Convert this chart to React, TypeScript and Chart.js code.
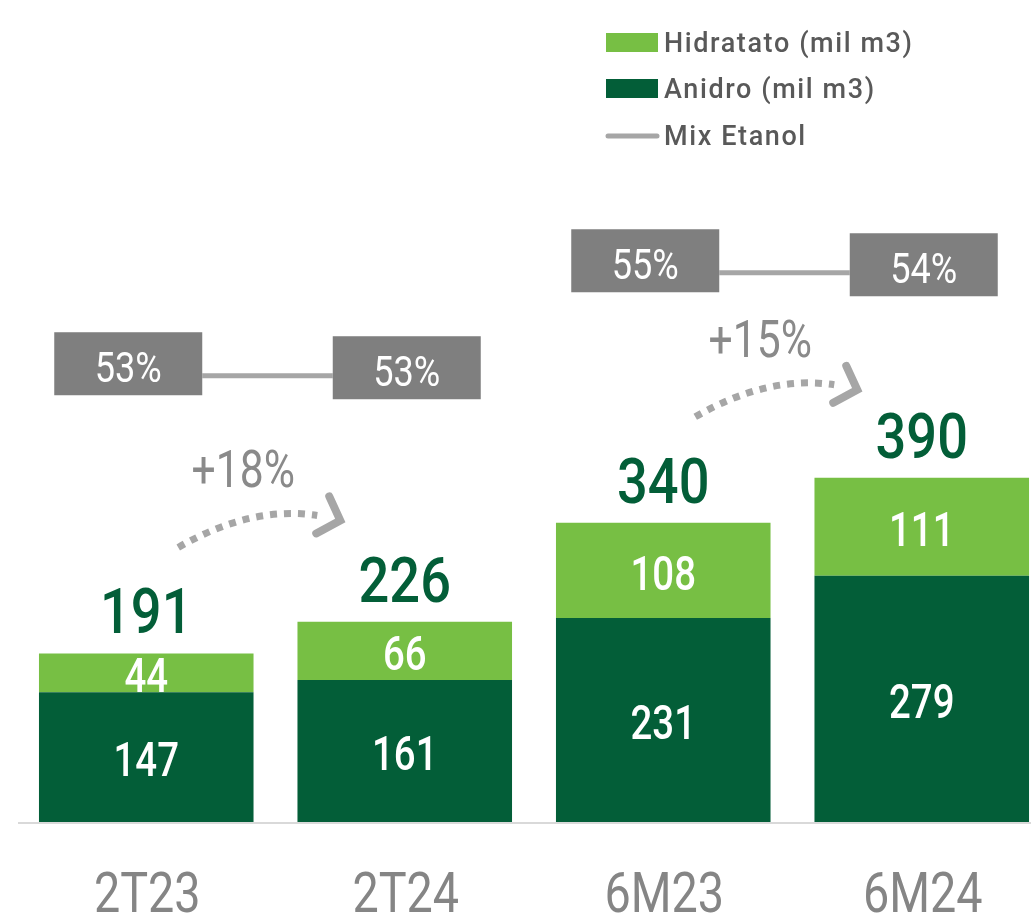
import React, { useEffect, useRef } from "react";
import { Chart, registerables } from "chart.js";

Chart.register(...registerables);

// ---- data ----
const categories = ["2T23", "2T24", "6M23", "6M24"];
const anidro = [147, 161, 231, 279];
const hidratato = [44, 66, 108, 111];
const totals = [191, 226, 340, 390];
const mixEtanol = [53, 53, 55, 54];
const comparePairs: [number, number][] = [
  [0, 1],
  [2, 3],
];

// ---- style ----
const DARK = "#035e38";
const LIGHT = "#77bf44";
const GRAY_BOX = "#7f7f7f";
const GRAY_LINE = "#a6a6a6";
const AXIS_TXT = "#858585";
const GROWTH_TXT = "#8a8a8a";
const LEGEND_TXT = "#595959";
const FONT = "Roboto, 'Noto Sans', sans-serif";

function drawText(
  ctx: CanvasRenderingContext2D,
  text: string,
  x: number,
  baseline: number,
  size: number,
  weight: string,
  color: string,
  sx: number,
  align: CanvasTextAlign = "center"
) {
  ctx.save();
  ctx.font = `${weight} ${size}px ${FONT}`;
  ctx.fillStyle = color;
  ctx.textAlign = align;
  ctx.textBaseline = "alphabetic";
  ctx.translate(x, baseline);
  ctx.scale(sx, 1);
  ctx.fillText(text, 0, 0);
  ctx.restore();
}

const overlayPlugin = {
  id: "overlay",
  afterDatasetsDraw(chart: any) {
    const ctx: CanvasRenderingContext2D = chart.ctx;
    const yScale = chart.scales.y;
    const y2 = chart.scales.y2;
    const metaA = chart.getDatasetMeta(0);
    const metaH = chart.getDatasetMeta(1);

    // baseline
    const base = yScale.getPixelForValue(0);
    ctx.save();
    ctx.strokeStyle = "#d9d9d9";
    ctx.lineWidth = 2;
    ctx.beginPath();
    ctx.moveTo(18, base + 1);
    ctx.lineTo(chart.width, base + 1);
    ctx.stroke();
    ctx.restore();

    // segment labels (white) clipped to their own segment
    const segSize = 48;
    const cap = segSize * 0.711;
    [metaA, metaH].forEach((meta: any, di: number) => {
      const values = di === 0 ? anidro : hidratato;
      meta.data.forEach((el: any, i: number) => {
        const p = el.getProps(["x", "y", "base", "width"], true);
        const top = Math.min(p.y, p.base);
        const bottom = Math.max(p.y, p.base);
        ctx.save();
        ctx.beginPath();
        ctx.rect(p.x - p.width / 2, top, p.width, bottom - top);
        ctx.clip();
        const cy = (top + bottom) / 2;
        drawText(ctx, String(values[i]), p.x, cy + cap / 2 + 2, segSize, "500", "#ffffff", 0.8);
        ctx.restore();
      });
    });

    // totals + x labels
    const tops: number[] = [];
    const xs: number[] = [];
    metaH.data.forEach((el: any, i: number) => {
      const p = el.getProps(["x", "y"], true);
      tops.push(p.y);
      xs.push(p.x);
      drawText(ctx, String(totals[i]), p.x, p.y - 20, 63, "500", DARK, 0.86);
      drawText(ctx, categories[i], p.x + 1, 912, 55, "normal", AXIS_TXT, 0.85);
    });

    // growth arrows
    comparePairs.forEach(([a, b]) => {
      const pct = Math.round((totals[b] / totals[a] - 1) * 100);
      const sx = xs[a] + 32;
      const sy = tops[a] - 106;
      ctx.save();
      ctx.strokeStyle = GRAY_LINE;
      ctx.lineWidth = 7;
      ctx.setLineDash([7, 7]);
      ctx.lineCap = "butt";
      ctx.beginPath();
      ctx.moveTo(sx, sy);
      ctx.quadraticCurveTo(sx + 73, sy - 42, sx + 139, sy - 32);
      ctx.stroke();
      ctx.setLineDash([]);
      ctx.lineWidth = 8;
      ctx.lineCap = "round";
      ctx.lineJoin = "miter";
      ctx.beginPath();
      ctx.moveTo(sx + 151, sy - 51);
      ctx.lineTo(sx + 162, sy - 27);
      ctx.lineTo(sx + 138, sy - 14);
      ctx.stroke();
      ctx.restore();
      drawText(ctx, `+${pct}%`, sx + 65, sy - 60, 52, "normal", GROWTH_TXT, 0.82);
    });

    // mix etanol boxes + connector
    const boxW = 148;
    const boxH = 63;
    comparePairs.forEach(([a, b]) => {
      const level = Math.max(mixEtanol[a], mixEtanol[b]);
      const cyA = y2.getPixelForValue(level);
      const cyB = cyA + 4;
      const cxA = xs[a] - 18;
      const cxB = xs[b] + 2;
      ctx.save();
      ctx.strokeStyle = GRAY_LINE;
      ctx.lineWidth = 5;
      ctx.beginPath();
      ctx.moveTo(cxA + boxW / 2, cyA + 12);
      ctx.lineTo(cxB - boxW / 2, cyA + 12);
      ctx.stroke();
      ctx.fillStyle = GRAY_BOX;
      ctx.fillRect(cxA - boxW / 2, cyA - boxH / 2, boxW, boxH);
      ctx.fillRect(cxB - boxW / 2, cyB - boxH / 2, boxW, boxH);
      ctx.restore();
      drawText(ctx, `${mixEtanol[a]}%`, cxA, cyA + 18, 42, "normal", "#ffffff", 0.86);
      drawText(ctx, `${mixEtanol[b]}%`, cxB, cyB + 18, 42, "normal", "#ffffff", 0.86);
    });
  },
  afterDraw(chart: any) {
    const ctx: CanvasRenderingContext2D = chart.ctx;
    const ds = chart.data.datasets;
    const items = [ds[1], ds[0], ds[2]];
    const rows = [43, 89, 136];
    items.forEach((d: any, k: number) => {
      const cy = rows[k];
      ctx.save();
      if (d.type === "line") {
        ctx.strokeStyle = d.borderColor;
        ctx.lineWidth = 5;
        ctx.lineCap = "round";
        ctx.beginPath();
        ctx.moveTo(608, cy);
        ctx.lineTo(657, cy);
        ctx.stroke();
      } else {
        ctx.fillStyle = d.backgroundColor;
        ctx.fillRect(606, cy - 10, 52, 19);
      }
      ctx.font = `500 27px ${FONT}`;
      (ctx as any).letterSpacing = "1.6px";
      ctx.fillStyle = LEGEND_TXT;
      ctx.textAlign = "left";
      ctx.textBaseline = "alphabetic";
      ctx.fillText(d.label, 664, cy + 9);
      ctx.restore();
    });
  },
};

export default function App() {
  const canvasRef = useRef<HTMLCanvasElement | null>(null);

  useEffect(() => {
    if (!canvasRef.current) return;
    const chart = new Chart(canvasRef.current, {
      type: "bar",
      data: {
        labels: categories,
        datasets: [
          {
            label: "Anidro (mil m3)",
            data: anidro,
            backgroundColor: DARK,
            borderWidth: 0,
            stack: "s",
          } as any,
          {
            label: "Hidratato (mil m3)",
            data: hidratato,
            backgroundColor: LIGHT,
            borderWidth: 0,
            stack: "s",
          } as any,
          {
            type: "line",
            label: "Mix Etanol",
            data: mixEtanol,
            yAxisID: "y2",
            borderColor: GRAY_LINE,
            backgroundColor: GRAY_LINE,
            showLine: false,
            pointRadius: 0,
            borderWidth: 0,
          } as any,
        ],
      },
      options: {
        responsive: false,
        animation: false,
        devicePixelRatio: 1,
        layout: { padding: { left: 17, right: 0, top: 10, bottom: 91 } },
        datasets: {
          bar: { barPercentage: 0.83, categoryPercentage: 1 },
        },
        scales: {
          x: { stacked: true, display: false },
          y: { stacked: true, display: false, min: 0, max: 920 },
          y2: { display: false, min: 44.1, max: 59.87 },
        },
        plugins: {
          legend: { display: false },
          tooltip: { enabled: false },
        },
      },
      plugins: [overlayPlugin],
    });
    return () => chart.destroy();
  }, []);

  return (
    <div
      style={{
        position: "absolute",
        left: 0,
        top: 0,
        width: 1031,
        height: 913,
        overflow: "hidden",
        background: "#ffffff",
      }}
    >
      <canvas ref={canvasRef} width={1051} height={913} style={{ display: "block" }} />
    </div>
  );
}
